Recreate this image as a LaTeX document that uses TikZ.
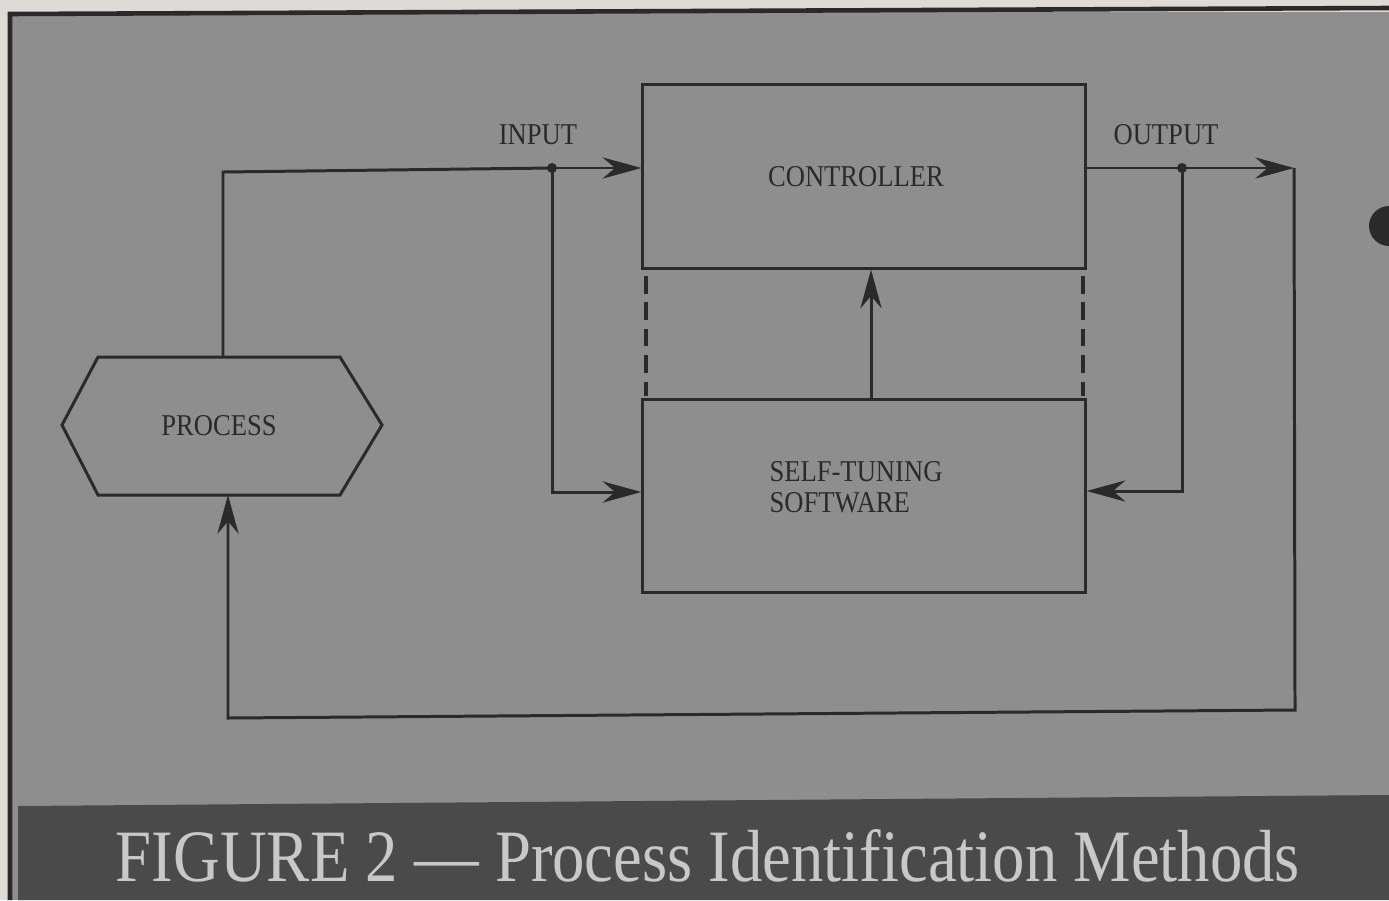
\documentclass[tikz,border=0pt]{standalone}
\usepackage{fontspec}
\usepackage{graphicx}
\setmainfont{Liberation Serif}
\usetikzlibrary{arrows.meta}
\definecolor{paper}{HTML}{DEDBD6}
\definecolor{panel}{HTML}{8E8E8E}
\definecolor{ink}{HTML}{2A2A2A}
\definecolor{band}{HTML}{4A4A4A}
\definecolor{captxt}{HTML}{C8C8C8}
\newcommand\hsqz[1]{\scalebox{0.88}[1]{#1}}
\begin{document}
\begin{tikzpicture}[x=0.01cm,y=-0.01cm,
  line width=0.85pt, draw=ink,
  arr/.style={-{Stealth[length=11pt,width=6pt,inset=3.5pt]}},
  blk/.style={draw=ink, line width=0.85pt, inner sep=0pt, minimum width=4.42cm},
  lbl/.style={text=ink, font=\fontsize{8.6}{8.8}\selectfont, inner sep=0pt},
  dashlink/.style={dash pattern=on 5pt off 2.5pt, line width=0.9pt}
]
\useasboundingbox (0,0) rectangle (1389,900);
\fill[paper] (0,0) rectangle (1389,900);
\fill[panel] (10,12) rectangle (1389,900);
\draw[line width=1.3pt] (10,900) -- (10,14) -- (1389,8);
\fill[band] (18,806) -- (1389,795) -- (1389,900) -- (18,900) -- cycle;
\fill[ink] (1389,226) circle (20);

% blocks
\node[blk, minimum height=1.83cm] (ctrl) at (864,176.5) {};
\node[lbl] (ctrltxt) at (856,177) {\hsqz{CONTROLLER}};
\node[blk, minimum height=1.92cm] (st) at (864,496) {};
\node[lbl, anchor=west, align=left] (sttxt) at (768,487) {\hsqz{SELF-TUNING}\\\hsqz{SOFTWARE}};

% process hexagon
\coordinate (pw) at (62,425);
\coordinate (ptl) at (98,357);
\coordinate (ptr) at (340,357);
\coordinate (pe) at (382,425);
\coordinate (pbr) at (340,495);
\coordinate (pbl) at (98,495);
\draw (pw) -- (ptl) -- (ptr) -- (pe) -- (pbr) -- (pbl) -- cycle;
\node[lbl] (proc) at (219,426) {\hsqz{PROCESS}};
\coordinate (ptop) at (223,357);
\coordinate (pbot) at (228,495);

% junctions and corners
\coordinate (inJ) at (552,168);
\coordinate (inC) at (223,172);
\coordinate (inL) at (552,492);
\coordinate (outJ) at (1182,168);
\coordinate (outL) at (1182,491);
\coordinate (rt) at (1294,168);
\coordinate (rb) at (1295,710);
\coordinate (lb) at (228,718);
\coordinate (ax) at (871,0);

% connectors
\draw (ptop) -- (inC) -- (inJ);
\draw[arr] (inJ) -- (ctrl.west |- inJ);
\draw[arr] (inJ) -- (inL) -- (st.west |- inL);
\draw[arr] (ctrl.east |- outJ) -- (rt);
\draw[arr] (outJ) -- (outL) -- (st.east |- outL);
\draw[arr] (rt) -- (rb) -- (lb) -- (pbot);
\draw[arr] (st.north -| ax) -- (ctrl.south -| ax);
\fill[ink] (inJ) circle (5);
\fill[ink] (outJ) circle (5);

% dashed links
\draw[dashlink] (646,276) -- (646,396);
\draw[dashlink] (1083,276) -- (1083,396);

\node[lbl] (inlbl) at (538,135) {\hsqz{INPUT}};
\node[lbl] (outlbl) at (1166,135) {\hsqz{OUTPUT}};

\node[text=captxt, font=\fontsize{21}{24}\selectfont, inner sep=0pt] (cap) at (708,856) {\scalebox{0.876}[1]{FIGURE 2 — Process Identification Methods}};
\end{tikzpicture}
\end{document}
